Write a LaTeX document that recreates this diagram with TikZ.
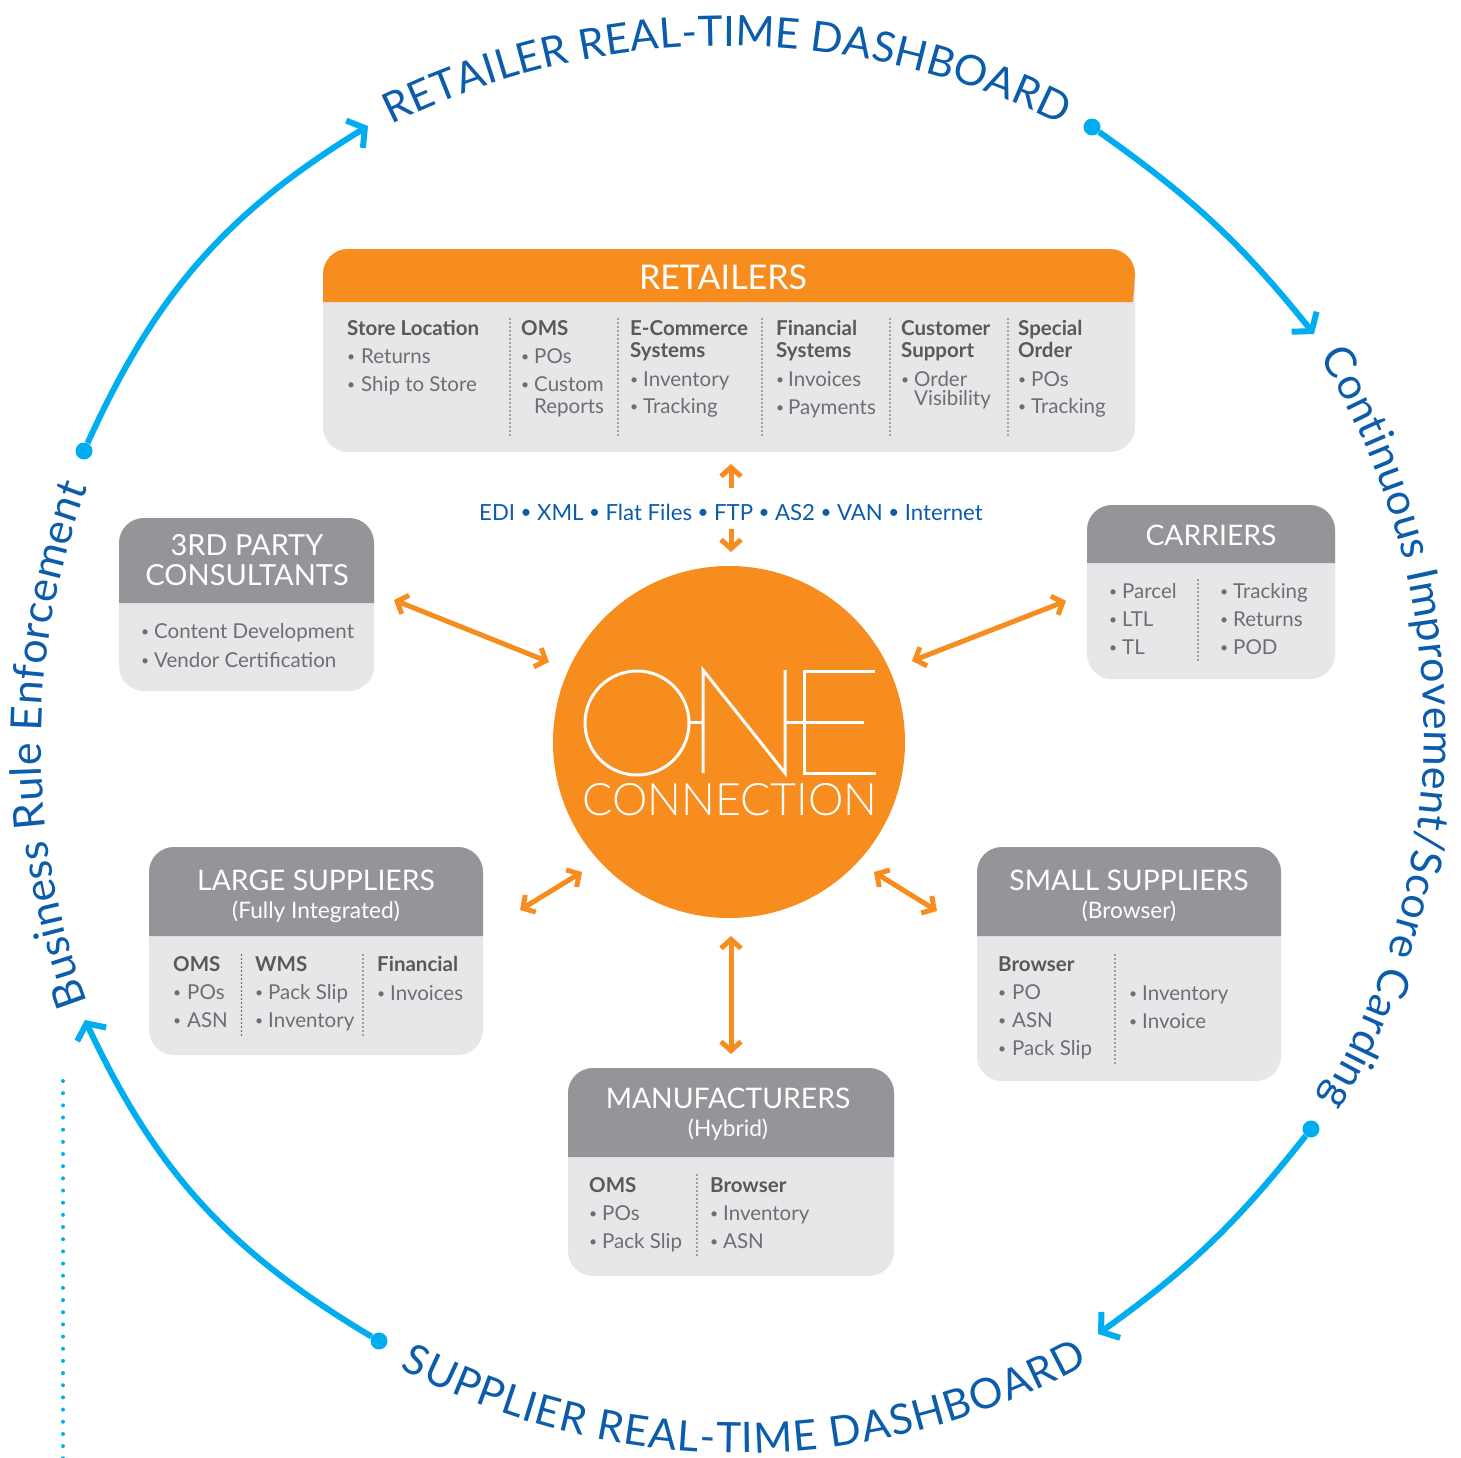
\documentclass[tikz,border=0pt]{standalone}
\usepackage{fontspec}
\usepackage{graphicx}
\setmainfont{Lato}
\newfontfamily\lightfont{Lato Light}
\usetikzlibrary{arrows.meta,decorations.text,fit}
\definecolor{orangeC}{HTML}{F78D1F}
\definecolor{headC}{HTML}{939598}
\definecolor{panelC}{HTML}{E6E7E8}
\definecolor{textC}{HTML}{6D6E71}
\definecolor{boldC}{HTML}{58595B}
\definecolor{cyanC}{HTML}{00AEEF}
\definecolor{blueC}{HTML}{0B5CAB}
\newcounter{tn}
\newcommand{\sbul}{\raisebox{1.8pt}{\scalebox{.68}{•}}}
\newcommand{\gapbul}{\hspace{7pt}\makebox[8pt]{\raisebox{1.2pt}{\scalebox{.85}{•}}}\hspace{7pt}}
\tikzset{
  txt/.style={inner sep=0pt,anchor=base west,text=textC,font=\fontsize{20.5pt}{22pt}\selectfont},
  bldtxt/.style={txt,text=boldC,font=\fontsize{20.5pt}{22pt}\selectfont\bfseries},
  ttltxt/.style={inner sep=0pt,anchor=base,text=white,font=\fontsize{28.3pt}{30pt}\selectfont},
  subtxt/.style={inner sep=0pt,anchor=base,text=white,font=\fontsize{22.7pt}{24pt}\selectfont},
  sep/.style={draw=boldC,line width=1.6pt,line cap=round,dash pattern=on 0pt off 4pt},
  flow/.style={draw=orangeC,line width=5pt,{Straight Barb[length=9pt,width=20pt]}-{Straight Barb[length=9pt,width=20pt]}},
  upflow/.style={draw=orangeC,line width=5pt,-{Straight Barb[length=9pt,width=20pt]}},
  loopline/.style={draw=cyanC,line width=6pt,-{Straight Barb[length=12pt,width=32pt]}},
  loopdot/.style={circle,fill=cyanC,inner sep=0pt,minimum size=17pt},
  logo/.style={draw=white,line width=3pt}
}
% name, x1, y1, x2, header bottom y, y2, header colour, radius, header bottom-right x
\newcommand{\panelbox}[9]{%
  \node[fit={(#2,#3) (#4,#6)},inner sep=0pt,fill=panelC,rounded corners=#8pt] (#1) {};
  \fill[#7] (#2,#5) -- (#2,{#3+#8}) arc[start angle=180,end angle=90,radius=#8pt]
     -- ({#4-#8},#3) arc[start angle=90,end angle=0,radius=#8pt] -- (#9,#5) -- cycle;
}
\newcommand{\ttl}[3]{\stepcounter{tn}\node[ttltxt] (t\arabic{tn}) at (#1,#2) {#3};}
\newcommand{\subttl}[3]{\stepcounter{tn}\node[subtxt] (t\arabic{tn}) at (#1,#2) {#3};}
\newcommand{\bld}[3]{\stepcounter{tn}\node[bldtxt] (t\arabic{tn}) at (#1,#2) {#3};}
\newcommand{\plain}[3]{\stepcounter{tn}\node[txt] (t\arabic{tn}) at (#1,#2) {#3};}
\newcommand{\itm}[4]{\stepcounter{tn}\node[txt] (t\arabic{tn}) at (#1,#3) {\makebox[#2pt][l]{\sbul}#4};}
\newcommand{\sepline}[3]{\draw[sep] (#1,#2) coordinate (sa\arabic{tn}) -- (#1,#3) coordinate (sb\arabic{tn});\stepcounter{tn}}
\newcommand{\arctext}[7]{%
  \path[decorate,decoration={text along path,text align={fit to path},
    text={|\color{blueC}\fontsize{#6pt}{#6pt}\selectfont|#7}}]
    ([shift={(#1,#2)}]#4:#3pt) arc[start angle=#4,end angle=#5,radius=#3pt];
}
\begin{document}
\begin{tikzpicture}[x=1pt,y=-1pt]
\useasboundingbox (0,0) rectangle (1461,1458);
\fill[white] (0,0) rectangle (1461,1458);

% ---- outer loop text
\arctext{727}{800}{754}{116.4}{63.6}{42}{RETAILER REAL-TIME DASHBOARD}
\arctext{740}{726}{727}{242.1}{298.6}{42}{SUPPLIER REAL-TIME DASHBOARD}
\arctext{773}{745}{732}{200.6}{159.4}{43}{Business Rule Enforcement}
\arctext{710}{729}{714}{31.4}{-31.2}{43}{Continuous Improvement/Score Carding}

% ---- outer loop arrows
\node[loopdot] (d1) at (1092,127) {};
\node[loopdot] (d2) at (1311,1129) {};
\node[loopdot] (d3) at (379,1341) {};
\node[loopdot] (d4) at (84,451) {};
\coordinate (e1) at (1314,334);
\coordinate (e2) at (1098,1334);
\coordinate (e3) at (85,1020);
\coordinate (e4) at (368,126);
\draw[loopline] (d1) to[bend left=8] (e1);
\draw[loopline] (d2) to[bend left=8] (e2);
\draw[loopline] (d3) to[bend left=17] (e3);
\draw[loopline] (d4) to[bend left=17] (e4);

% ---- dotted line bottom left
\coordinate (da) at (63,1081);
\coordinate (db) at (63,1460);
\draw[draw=cyanC,line width=4pt,line cap=round,dash pattern=on 0pt off 12.17pt] (da) -- (db);

% ---- hub
\node[circle,fill=orangeC,inner sep=0pt,minimum size=352pt] (hub) at (729,742) {};
\draw[logo] (637,723) circle[radius=52pt];
\draw[logo] (690,722) -- (703,722);
\draw[logo,line join=miter] (703,773) -- (703,670) -- (785,773) -- (785,670);
\draw[logo] (875,671) -- (804,671) -- (804,773) -- (876,773);
\draw[logo] (785,722) -- (864,722);
\node[inner sep=0pt,anchor=base,text=white] (conn) at (730,815) {\resizebox{295pt}{!}{\lightfont CONNECTION}};

% ---- retailers
\panelbox{retailers}{323}{249}{1135}{302}{452}{orangeC}{25}{1133}
\stepcounter{tn}\node[ttltxt,font=\fontsize{34pt}{36pt}\selectfont] (t\arabic{tn}) at (723,289) {RETAILERS};
\bld{347}{335}{Store Location}
\itm{347}{14}{363}{Returns}
\itm{347}{14}{391}{Ship to Store}
\sepline{510}{319}{437}
\bld{521}{335}{OMS}
\itm{521}{13}{363}{POs}
\itm{521}{13}{391}{Custom}
\plain{534}{413}{Reports}
\sepline{618}{319}{437}
\bld{630}{335}{E-Commerce}
\bld{630}{357}{Systems}
\itm{630}{13}{386}{Inventory}
\itm{630}{13}{413}{Tracking}
\sepline{762}{319}{437}
\bld{776}{335}{Financial}
\bld{776}{357}{Systems}
\itm{776}{12}{386}{Invoices}
\itm{776}{12}{414}{Payments}
\sepline{890}{319}{437}
\bld{901}{335}{Customer}
\bld{901}{357}{Support}
\itm{901}{13}{386}{Order}
\plain{914}{405}{Visibility}
\sepline{1008}{319}{437}
\bld{1018}{335}{Special}
\bld{1018}{357}{Order}
\itm{1018}{13}{386}{POs}
\itm{1018}{13}{413}{Tracking}

% ---- protocols
\node[inner sep=0pt,anchor=base,text=blueC,font=\fontsize{22.2pt}{24pt}\selectfont] (proto) at (731,520) {EDI\gapbul XML\gapbul Flat Files\gapbul FTP\gapbul AS2\gapbul VAN\gapbul Internet};

% ---- consultants
\panelbox{consultants}{119}{518}{374}{603}{691}{headC}{25}{374}
\stepcounter{tn}\node[ttltxt,font=\fontsize{29pt}{30pt}\selectfont] (t\arabic{tn}) at (247,555) {3RD PARTY};
\stepcounter{tn}\node[ttltxt,font=\fontsize{29pt}{30pt}\selectfont] (t\arabic{tn}) at (247,585) {CONSULTANTS};
\itm{141}{13}{638}{Content Development}
\itm{141}{13}{667}{Vendor Certification}

% ---- carriers
\panelbox{carriers}{1087}{505}{1335}{563}{679}{headC}{25}{1335}
\ttl{1211}{545}{CARRIERS}
\itm{1109}{13}{598}{Parcel}
\itm{1109}{13}{626}{LTL}
\itm{1109}{13}{654}{TL}
\sepline{1198}{580}{663}
\itm{1220}{13}{598}{Tracking}
\itm{1220}{13}{626}{Returns}
\itm{1220}{13}{654}{POD}

% ---- large suppliers
\panelbox{large}{149}{847}{483}{936}{1055}{headC}{25}{483}
\ttl{316}{890}{LARGE SUPPLIERS}
\subttl{316}{918}{(Fully Integrated)}
\bld{173}{971}{OMS}
\itm{173}{14}{999}{POs}
\itm{173}{14}{1027}{ASN}
\sepline{241.5}{955}{1035}
\bld{255}{971}{WMS}
\itm{255}{13}{999}{Pack Slip}
\itm{255}{13}{1027}{Inventory}
\sepline{363}{955}{1035}
\bld{377}{971}{Financial}
\itm{377}{13}{1000}{Invoices}

% ---- small suppliers
\panelbox{small}{977}{847}{1281}{936}{1081}{headC}{25}{1281}
\ttl{1129}{890}{SMALL SUPPLIERS}
\subttl{1129}{918}{(Browser)}
\bld{998}{971}{Browser}
\itm{998}{14}{999}{PO}
\itm{998}{14}{1027}{ASN}
\itm{998}{14}{1055}{Pack Slip}
\sepline{1115}{955}{1063}
\itm{1129}{13}{1000}{Inventory}
\itm{1129}{13}{1028}{Invoice}

% ---- manufacturers
\panelbox{makers}{568}{1068}{894}{1157}{1276}{headC}{25}{894}
\ttl{728}{1108}{MANUFACTURERS}
\subttl{728}{1136}{(Hybrid)}
\bld{589}{1192}{OMS}
\itm{589}{13}{1220}{POs}
\itm{589}{13}{1248}{Pack Slip}
\sepline{697}{1175}{1255}
\bld{710}{1192}{Browser}
\itm{710}{13}{1220}{Inventory}
\itm{710}{13}{1248}{ASN}

% ---- orange connectors
\coordinate (a1s) at (731,488); \coordinate (a1e) at (731,464);
\coordinate (a2s) at (731,529); \coordinate (a2e) at (731,552);
\coordinate (a3s) at (394,600); \coordinate (a3e) at (549,662);
\coordinate (a4s) at (1066,601); \coordinate (a4e) at (912,661);
\coordinate (a5s) at (520,910); \coordinate (a5e) at (582,872);
\coordinate (a6s) at (937,911); \coordinate (a6e) at (874,872);
\coordinate (a7s) at (731,936); \coordinate (a7e) at (731,1054);
\draw[upflow] (a1s) -- (a1e);
\draw[upflow] (a2s) -- (a2e);
\draw[flow] (a3s) -- (a3e);
\draw[flow] (a4s) -- (a4e);
\draw[flow] (a5s) -- (a5e);
\draw[flow] (a6s) -- (a6e);
\draw[flow] (a7s) -- (a7e);
\end{tikzpicture}
\end{document}
